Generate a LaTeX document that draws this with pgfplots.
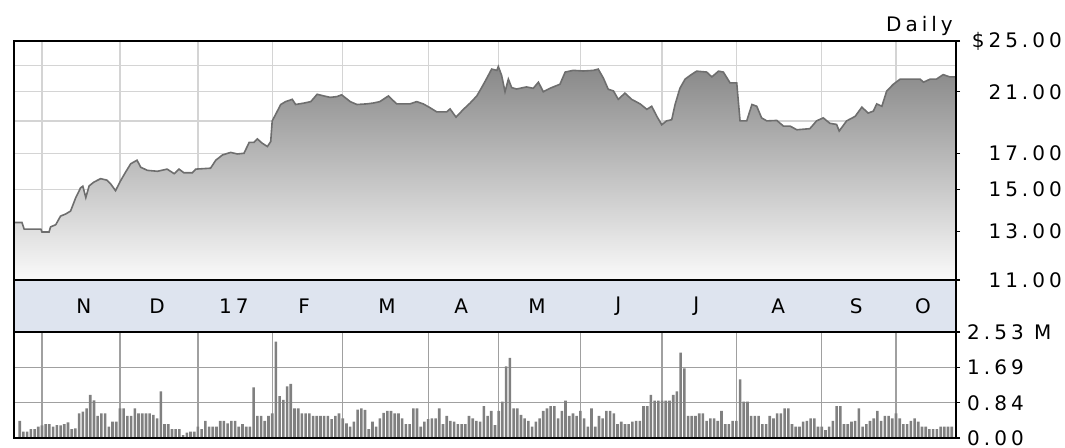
\documentclass[border=0pt]{standalone}
\usepackage{pgfplots}
\pgfplotsset{compat=1.18}
\usepackage{pgfplotstable}
\usepackage{fontspec}
\setmainfont{DejaVu Sans}[LetterSpace=20]
\definecolor{gridlight}{RGB}{212,212,212}
\definecolor{griddark}{RGB}{160,160,160}
\definecolor{stripc}{RGB}{222,228,239}
\definecolor{volbar}{RGB}{128,128,128}
\definecolor{pline}{RGB}{110,110,110}

\pgfplotstableread{
d p
-7.6 13.40
-5.4 13.40
-4.8 13.10
-0.3 13.10
0 12.97
1.9 12.97
2.3 13.20
3.7 13.30
5.0 13.70
6.4 13.80
7.7 13.94
9.1 14.60
10.4 15.10
11.0 15.18
11.8 14.60
12.7 15.20
14.0 15.40
15.8 15.58
17.5 15.50
18.5 15.30
19.8 14.95
21.2 15.48
22.5 15.93
23.9 16.40
25.6 16.60
26.6 16.20
28.4 16.03
31.1 15.98
33.7 16.10
35.6 15.85
36.9 16.10
38.2 15.90
40.5 15.90
41.4 16.10
45.4 16.15
46.8 16.60
48.6 16.90
50.8 17.05
52.6 16.96
54.4 17.00
55.8 17.65
57.1 17.65
58.0 17.86
59.3 17.60
60.7 17.40
61.6 17.70
62.0 19.00
62.9 19.42
64.3 20.10
65.6 20.30
67.4 20.46
68.3 20.10
70.6 20.20
72.4 20.30
74.1 20.82
75.9 20.70
77.6 20.60
79.4 20.65
80.7 20.78
83.0 20.30
84.8 20.10
87.4 20.14
89.2 20.20
91.0 20.30
93.3 20.70
95.5 20.14
99.1 20.14
100.9 20.30
102.7 20.14
104.5 19.88
106.3 19.60
109.0 19.60
109.9 19.80
111.5 19.25
113.5 19.77
115.3 20.20
117.1 20.70
118.4 21.30
119.8 22.00
121.1 22.70
122.5 22.60
122.9 22.90
123.8 22.20
124.7 21.00
125.6 21.93
126.5 21.30
127.8 21.20
130.5 21.35
132.3 21.25
133.7 21.70
135.0 21.00
136.8 21.25
139.5 21.55
140.9 22.47
143.1 22.60
145.8 22.55
148.5 22.60
149.8 22.70
151.2 22.00
152.5 21.18
153.9 21.06
155.2 20.46
157.0 20.90
158.8 20.46
161.1 20.14
162.9 19.77
164.2 19.98
165.6 19.30
166.9 18.75
168.2 19.00
169.6 19.08
170.5 20.10
171.8 21.25
173.2 21.93
174.5 22.20
176.3 22.54
179.0 22.47
180.4 22.10
182.2 22.54
183.5 22.47
185.3 21.65
187.1 21.65
188.0 19.00
189.8 19.00
191.2 20.10
192.5 19.98
193.8 19.20
195.2 19.00
197.9 19.03
199.7 18.66
201.5 18.66
203.3 18.43
206.8 18.50
208.6 19.00
210.4 19.20
212.2 18.84
214.0 18.77
214.7 18.35
216.7 19.00
219.0 19.30
220.8 19.92
222.5 19.52
223.9 19.65
224.8 20.14
226.2 19.98
227.5 21.06
229.3 21.55
231.1 21.93
236.5 21.93
237.4 21.70
239.2 21.93
240.9 21.93
242.7 22.27
244.5 22.10
246.3 22.10
}\pricetable

\pgfplotstableread{
d v
-6 0.41
-5 0.15
-4 0.15
-3 0.21
-2 0.21
-1 0.27
0 0.30
1 0.33
2 0.33
3 0.27
4 0.31
5 0.30
6 0.33
7 0.37
8 0.21
9 0.23
10 0.59
11 0.63
12 0.71
13 1.03
14 0.90
15 0.53
16 0.59
17 0.59
18 0.27
19 0.39
20 0.39
21 0.71
22 0.71
23 0.53
24 0.53
25 0.71
26 0.59
27 0.59
28 0.59
29 0.59
30 0.55
31 0.47
32 1.11
33 0.33
34 0.33
35 0.21
36 0.21
37 0.21
38 0.07
39 0.13
40 0.15
41 0.15
42 0.27
43 0.21
44 0.41
45 0.27
46 0.27
47 0.27
48 0.41
49 0.41
50 0.35
51 0.41
52 0.41
53 0.27
54 0.33
55 0.27
56 0.27
57 1.21
58 0.53
59 0.53
60 0.41
61 0.53
62 0.59
63 2.30
64 1.00
65 0.91
66 1.23
67 1.29
68 0.71
69 0.71
70 0.59
71 0.59
72 0.59
73 0.53
74 0.53
75 0.53
76 0.53
77 0.53
78 0.45
79 0.53
80 0.59
81 0.47
82 0.35
83 0.27
84 0.39
85 0.68
86 0.71
87 0.67
88 0.21
89 0.39
90 0.27
91 0.47
92 0.60
93 0.65
94 0.65
95 0.59
96 0.59
97 0.47
98 0.33
99 0.33
100 0.71
101 0.71
102 0.27
103 0.39
104 0.45
105 0.47
106 0.47
107 0.71
108 0.33
109 0.53
110 0.41
111 0.39
112 0.33
113 0.33
114 0.33
115 0.53
116 0.47
117 0.41
118 0.39
119 0.76
120 0.53
121 0.65
122 0.31
123 0.65
124 0.87
125 1.71
126 1.91
127 0.71
128 0.71
129 0.55
130 0.47
131 0.41
132 0.27
133 0.39
134 0.47
135 0.65
136 0.71
137 0.76
138 0.76
139 0.47
140 0.65
141 0.89
142 0.53
143 0.59
144 0.53
145 0.65
146 0.47
147 0.27
148 0.71
149 0.27
150 0.53
151 0.47
152 0.65
153 0.65
154 0.59
155 0.33
156 0.39
157 0.33
158 0.33
159 0.39
160 0.41
161 0.41
162 0.76
163 0.76
164 1.03
165 0.89
166 0.89
167 0.89
168 0.89
169 0.89
170 1.03
171 1.11
172 2.04
173 1.66
174 0.53
175 0.53
176 0.53
177 0.59
178 0.59
179 0.41
180 0.47
181 0.47
182 0.41
183 0.65
184 0.33
185 0.33
186 0.41
187 0.41
188 1.40
189 0.87
190 0.87
191 0.53
192 0.53
193 0.53
194 0.33
195 0.33
196 0.53
197 0.47
198 0.59
199 0.59
200 0.71
201 0.71
202 0.33
203 0.27
204 0.27
205 0.39
206 0.41
207 0.47
208 0.47
209 0.27
210 0.27
211 0.19
212 0.27
213 0.41
214 0.76
215 0.76
216 0.33
217 0.33
218 0.39
219 0.41
220 0.71
221 0.27
222 0.33
223 0.41
224 0.47
225 0.65
226 0.41
227 0.53
228 0.53
229 0.47
230 0.59
231 0.47
232 0.33
233 0.33
234 0.41
235 0.47
236 0.39
237 0.27
238 0.27
239 0.21
240 0.21
241 0.21
242 0.27
243 0.27
244 0.27
245 0.27
}\voltable

\begin{document}
\fontsize{20}{24}\selectfont
\begin{tikzpicture}
\useasboundingbox (0pt,0pt) rectangle (1065pt,447pt);
\pgfplotsset{
  panel/.style={scale only axis, width=942pt, xmin=-7.54, xmax=246.16,
    anchor=south west,
    xtick={0,21,42,62,81,104,123,145,167,187,210,230}, xticklabels={},
    xmajorticks=false,
    axis line style={line width=2pt},
    ytick pos=right, yticklabel pos=right, tick align=outside,
    major tick length=4pt, ytick style={line width=1.2pt, black},
    tick label style={font=\fontsize{20}{24}\selectfont},
    clip mode=individual}
}
% price panel
\begin{axis}[panel, at={(14pt,167pt)}, height=239pt,
  ymode=log, ymin=11, ymax=25, log origin y=infty,
  ytick={11,13,15,17,21,25},
  yticklabels={11.00,13.00,15.00,17.00,21.00,\$25.00},
  extra y ticks={19,23}, extra y tick labels={},
  extra y tick style={major tick length=0pt},
  grid=major, grid style={gridlight, line width=1.3pt},
  yticklabel style={anchor=east, inner sep=0pt, xshift=102pt}]
\addplot[draw=none, top color={rgb,255:red,136;green,136;blue,136},
  bottom color={rgb,255:red,250;green,250;blue,250}]
  table[x=d, y=p]{\pricetable} \closedcycle;
\addplot[pline, line width=1.6pt, no marks] table[x=d, y=p]{\pricetable};
\draw[line width=2pt] (rel axis cs:0,0) rectangle (rel axis cs:1,1);
\end{axis}
% month strip
\begin{axis}[scale only axis, width=942pt, height=52pt, at={(14pt,115pt)},
  anchor=south west, xmin=-7.54, xmax=246.16, ymin=0, ymax=1,
  ticks=none, axis line style={line width=2pt},
  axis background/.style={fill=stripc}]
\node at (axis cs:11.3,0.5) {N};
\node at (axis cs:31.0,0.5) {D};
\node at (axis cs:51.7,0.5) {17};
\node at (axis cs:70.6,0.5) {F};
\node at (axis cs:92.9,0.5) {M};
\node at (axis cs:112.9,0.5) {A};
\node at (axis cs:133.3,0.5) {M};
\node at (axis cs:155.2,0.5) {J};
\node at (axis cs:176.2,0.5) {J};
\node at (axis cs:198.3,0.5) {A};
\node at (axis cs:219.3,0.5) {S};
\node at (axis cs:237.3,0.5) {O};
\end{axis}
% volume panel
\begin{axis}[panel, at={(14pt,9pt)}, height=106pt,
  ymin=0, ymax=2.53,
  ytick={0,0.84,1.69,2.53},
  yticklabels={0.00,0.84,1.69,2.53 M},
  grid=major, grid style={griddark, line width=1.2pt},
  yticklabel style={anchor=west, inner sep=0pt, xshift=7pt}]
\addplot[ybar, bar width=2.6pt, bar shift=0pt, fill=volbar, draw=none]
  table[x=d, y=v]{\voltable};
\draw[line width=2pt] (rel axis cs:0,0) rectangle (rel axis cs:1,1);
\end{axis}
\node[anchor=base east, inner sep=0pt] at (953pt,415pt) {Daily};
\end{tikzpicture}
\end{document}
